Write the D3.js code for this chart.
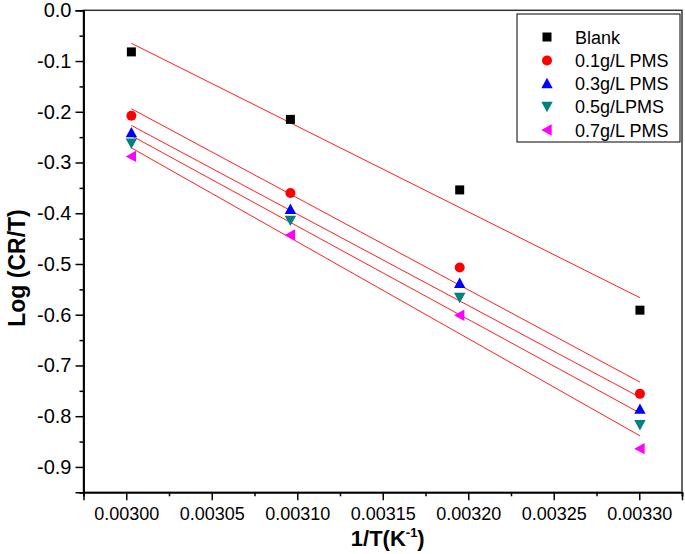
<!DOCTYPE html>
<html><head><meta charset="utf-8">
<script src="https://cdn.jsdelivr.net/npm/d3@7"></script>
<style>
body{margin:0;background:#fff;}
svg{display:block;font-family:Arial,"Liberation Sans",sans-serif;}
</style></head>
<body>
<svg id="c" width="685" height="554"></svg>
<script>
// ---- data ----
const invT = [0.003003, 0.003096, 0.003195, 0.0033004];
const seriesNames = ["Blank", "0.1g/L PMS", "0.3g/L PMS", "0.5g/LPMS", "0.7g/L PMS"];
const blank = [-0.082, -0.215, -0.354, -0.591];
const pms01 = [-0.208, -0.360, -0.507, -0.756];
const pms03 = [-0.241, -0.392, -0.538, -0.786];
const pms05 = [-0.262, -0.414, -0.566, -0.817];
const pms07 = [-0.288, -0.443, -0.601, -0.864];
const xTicks = [0.00300, 0.00305, 0.00310, 0.00315, 0.00320, 0.00325, 0.00330];
const yTicks = [0.0, -0.1, -0.2, -0.3, -0.4, -0.5, -0.6, -0.7, -0.8, -0.9];

const allSeries = [blank, pms01, pms03, pms05, pms07];
const colors = ["#000000", "#ff0000", "#0000ff", "#008080", "#ff00ff"];
const shapes = ["square", "circle", "up", "down", "left"];

const svg = d3.select("#c");
const L = 83.5, R = 682, T = 10.3, B = 492.3;
const x = d3.scaleLinear().domain([0.002975, 0.003325]).range([L, R]);
const y = d3.scaleLinear().domain([-0.95, 0.0]).range([B, T]);

// frame
svg.append("rect").attr("x", L).attr("y", T).attr("width", R - L).attr("height", B - T)
  .attr("fill", "none").attr("stroke", "#333").attr("stroke-width", 1.5);

// minor ticks
const xMinor = d3.range(0, 8).map(i => 0.002975 + i * 0.00005);
const yMinor = d3.range(0, 10).map(i => -0.05 - i * 0.1);

const xAxis = d3.axisBottom(x).tickValues(xTicks).tickFormat(d3.format(".5f")).tickSize(8).tickPadding(7);
const gx = svg.append("g").attr("transform", `translate(0,${B})`).call(xAxis);
svg.append("g").attr("transform", `translate(0,${B})`)
  .call(d3.axisBottom(x).tickValues(xMinor).tickSize(4).tickFormat(""));
const yAxis = d3.axisLeft(y).tickValues(yTicks).tickFormat(d3.format(".1f")).tickSize(8).tickPadding(4);
const gy = svg.append("g").attr("transform", `translate(${L},0)`).call(yAxis);
svg.append("g").attr("transform", `translate(${L},0)`)
  .call(d3.axisLeft(y).tickValues(yMinor).tickSize(4).tickFormat(""));

svg.selectAll(".domain").attr("stroke", "#000").attr("stroke-width", 1.5);
svg.selectAll(".tick line").attr("stroke", "#000").attr("stroke-width", 1.5);
svg.selectAll(".tick text").attr("font-size", 18).attr("fill", "#000")
  .attr("font-family", "Arial, 'Liberation Sans', sans-serif");
gy.selectAll(".tick text").attr("font-size", 20).text(d => d3.format(".1f")(d).replace("−", "-"));

// axis titles
svg.append("text").attr("transform", `translate(25,268) rotate(-90)`)
  .attr("text-anchor", "middle").attr("font-weight", "bold").attr("font-size", 23)
  .text("Log (CR/T)");
const xt = svg.append("text").attr("x", (L + R) / 2 + 5).attr("y", 546)
  .attr("text-anchor", "middle").attr("font-weight", "bold").attr("font-size", 22);
xt.append("tspan").text("1/T(K");
xt.append("tspan").attr("font-size", 13).attr("dy", -9).text("-1");
xt.append("tspan").attr("dy", 9).text(")");

// fit lines (least squares through each series)
function fit(vals) {
  const mx = d3.mean(invT), my = d3.mean(vals);
  let sxy = 0, sxx = 0;
  invT.forEach((xv, i) => { sxy += (xv - mx) * (vals[i] - my); sxx += (xv - mx) * (xv - mx); });
  const b = sxy / sxx, a = my - b * mx;
  return [invT[0], invT[invT.length - 1]].map(xv => [xv, a + b * xv]);
}
allSeries.forEach(s => {
  const pts = fit(s);
  svg.append("path").attr("d", d3.line().x(d => x(d[0])).y(d => y(d[1]))(pts))
    .attr("fill", "none").attr("stroke", "#ff2020").attr("stroke-width", 1);
});

// markers
function marker(g, shape, cx, cy, color) {
  const s = 5.2;
  if (shape === "square") g.append("rect").attr("x", cx - 4.5).attr("y", cy - 4.5).attr("width", 9).attr("height", 9).attr("fill", color);
  else if (shape === "circle") g.append("circle").attr("cx", cx).attr("cy", cy).attr("r", 5).attr("fill", color);
  else {
    let p;
    if (shape === "up") p = [[cx, cy - s - 0.5], [cx + s + 0.5, cy + s - 0.5], [cx - s - 0.5, cy + s - 0.5]];
    else if (shape === "down") p = [[cx, cy + s + 0.5], [cx + s + 0.5, cy - s + 0.5], [cx - s - 0.5, cy - s + 0.5]];
    else p = [[cx - s - 0.5, cy], [cx + s - 0.5, cy - s - 0.5], [cx + s - 0.5, cy + s + 0.5]];
    g.append("polygon").attr("points", p.map(q => q.join(",")).join(" ")).attr("fill", color);
  }
}
const gm = svg.append("g");
allSeries.forEach((s, k) => {
  s.forEach((v, i) => marker(gm, shapes[k], x(invT[i]), y(v), colors[k]));
});

// legend
const lg = svg.append("g");
lg.append("rect").attr("x", 517).attr("y", 14).attr("width", 163).attr("height", 128)
  .attr("fill", "#fff").attr("stroke", "#000").attr("stroke-width", 1);
const rowY = [37, 60.5, 83.5, 106.5, 130];
seriesNames.forEach((n, k) => {
  marker(lg, shapes[k], 547, rowY[k], colors[k]);
  lg.append("text").attr("x", 575).attr("y", rowY[k] + 6.5).attr("font-size", 18).attr("fill", "#000").text(n);
});
</script>
</body></html>
